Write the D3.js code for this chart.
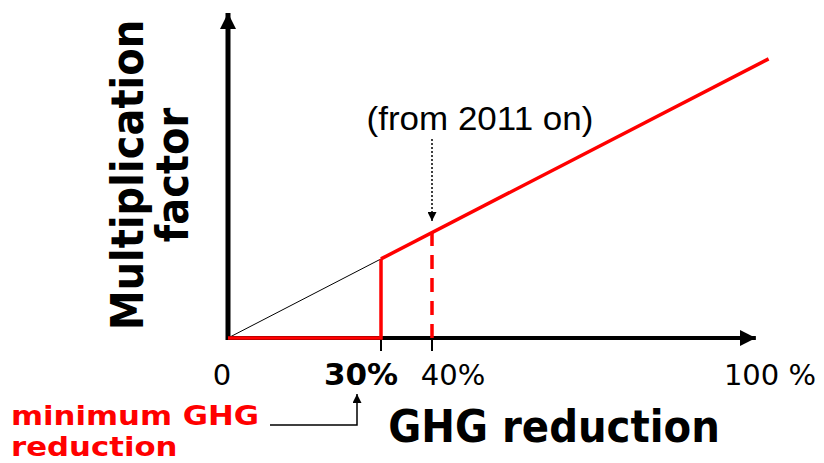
<!DOCTYPE html>
<html>
<head>
<meta charset="utf-8">
<script src="https://cdn.jsdelivr.net/npm/d3@7"></script>
<style>
  body { margin: 0; background: #fff; }
  svg { display: block; }
</style>
</head>
<body>
<div id="chart"></div>
<script>
// values (x in % reduction, y = multiplication factor, 1 at 30%)
var baseLine = [[0, 0], [30, 1]];
var factorLine = [[30, 1], [106, 3.53]];
var minimumLine = [[0, 0], [30, 0], [30, 1]];
var yearLine = [[40, 0], [40, 1.333]];
var tickValues = [30, 40];
var tickLabels = [
  {v: 0, text: '0', bold: false},
  {v: 30, text: '30%', bold: true},
  {v: 40, text: '40%', bold: false},
  {v: 100, text: '100 %', bold: false}
];

var width = 824, height = 463;

var x = d3.scaleLinear().domain([0, 100]).range([228, 738]);
var y = d3.scaleLinear().domain([0, 4.11]).range([338, 13]);

var svg = d3.select('#chart').append('svg')
  .attr('width', width)
  .attr('height', height);

var defs = svg.append('defs');
var marker = function(id, size){
  defs.append('marker')
    .attr('id', id)
    .attr('viewBox', '0 0 10 10')
    .attr('refX', 10).attr('refY', 5)
    .attr('markerUnits', 'userSpaceOnUse')
    .attr('markerWidth', size).attr('markerHeight', size)
    .attr('orient', 'auto')
    .append('path').attr('d', 'M0,0L10,5L0,10Z').attr('fill', 'black');
}
marker('bigArrow', 16);
marker('smallArrow', 9);

var line = d3.line().x(function(d){ return x(d[0]); }).y(function(d){ return y(d[1]); });

// axes
svg.append('line')
  .attr('x1', x(0)).attr('y1', y(0) + 2)
  .attr('x2', x(0)).attr('y2', y(4.11))
  .attr('stroke', 'black').attr('stroke-width', 5)
  .attr('marker-end', 'url(#bigArrow)');
svg.append('line')
  .attr('x1', x(0) - 2).attr('y1', y(0))
  .attr('x2', x(103.5)).attr('y2', y(0))
  .attr('stroke', 'black').attr('stroke-width', 4)
  .attr('marker-end', 'url(#bigArrow)');

// ticks under the axis
svg.selectAll('line.tick').data(tickValues)
  .enter().append('line')
  .attr('class', 'tick')
  .attr('x1', function(d){ return x(d); }).attr('x2', function(d){ return x(d); })
  .attr('y1', y(0)).attr('y2', y(0) + 13)
  .attr('stroke', 'black').attr('stroke-width', 2);

// thin guide line through the origin
svg.append('path').attr('d', line(baseLine))
  .attr('fill', 'none').attr('stroke', 'black').attr('stroke-width', 1);

// red lines
svg.append('path').attr('d', line(minimumLine))
  .attr('fill', 'none').attr('stroke', 'red').attr('stroke-width', 3.5);
svg.append('path').attr('d', line(factorLine))
  .attr('fill', 'none').attr('stroke', 'red').attr('stroke-width', 3.5);
svg.append('path').attr('d', line(yearLine))
  .attr('fill', 'none').attr('stroke', 'red').attr('stroke-width', 3.5)
  .attr('stroke-dasharray', '14,9');

// tick labels
svg.selectAll('text.tl').data(tickLabels)
  .enter().append('text')
  .attr('class', 'tl')
  .attr('x', function(d){
    if(d.v == 0) return x(0) - 6;
    if(d.v == 30) return x(30) - 20;
    if(d.v == 40) return x(40) + 21;
    return x(100) + 32;
  })
  .attr('y', 385)
  .attr('text-anchor', 'middle')
  .attr('font-family', 'DejaVu Sans')
  .attr('font-size', function(d){ return d.bold ? 31 : 29; })
  .attr('font-weight', function(d){ return d.bold ? 'bold' : 'normal'; })
  .text(function(d){ return d.text; });

// annotation
svg.append('text')
  .attr('transform', 'translate(480,130) scale(1.06,1)')
  .attr('text-anchor', 'middle')
  .attr('font-family', 'Liberation Sans')
  .attr('font-size', 33)
  .text('(from 2011 on)');
svg.append('line')
  .attr('x1', x(40)).attr('y1', 139)
  .attr('x2', x(40)).attr('y2', 221)
  .attr('stroke', 'black').attr('stroke-width', 1.5)
  .attr('stroke-dasharray', '2,2')
  .attr('marker-end', 'url(#smallArrow)');

// minimum GHG reduction callout
svg.append('path')
  .attr('d', 'M270,425H' + (x(30) - 24) + 'V394')
  .attr('fill', 'none').attr('stroke', 'black').attr('stroke-width', 1.5)
  .attr('marker-end', 'url(#smallArrow)');
var minText = svg.append('text')
  .attr('transform', 'translate(11,0) scale(1.14,1)')
  .attr('font-family', 'DejaVu Sans').attr('font-weight', 'bold')
  .attr('font-size', 27).attr('fill', 'red');
minText.append('tspan').attr('x', 0).attr('y', 425).text('minimum GHG');
minText.append('tspan').attr('x', 0).attr('y', 456).text('reduction');

// axis titles
svg.append('text')
  .attr('transform', 'translate(554,442) scale(0.915,1)')
  .attr('text-anchor', 'middle')
  .attr('font-family', 'DejaVu Sans').attr('font-weight', 'bold')
  .attr('font-size', 44)
  .text('GHG reduction');

var yTitle = svg.append('g').attr('transform', 'translate(143,175) rotate(-90) scale(0.91,1)');
yTitle.append('text')
  .attr('text-anchor', 'middle')
  .attr('font-family', 'DejaVu Sans').attr('font-weight', 'bold')
  .attr('font-size', 44)
  .text('Multiplication');
yTitle.append('text')
  .attr('y', 45)
  .attr('text-anchor', 'middle')
  .attr('font-family', 'DejaVu Sans').attr('font-weight', 'bold')
  .attr('font-size', 44)
  .text('factor');
</script>
</body>
</html>
